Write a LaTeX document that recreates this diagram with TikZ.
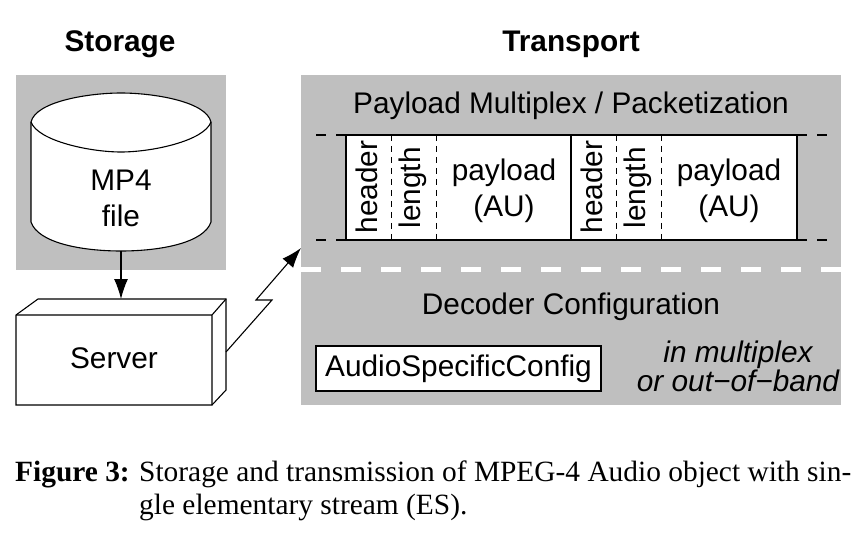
\documentclass[tikz,border=0pt]{standalone}
\usepackage{fontspec}
\setmainfont{Liberation Sans}
\newfontfamily\capfont{Liberation Serif}
\usepackage{tikz}
\usetikzlibrary{arrows.meta}
\usetikzlibrary{calc}
\definecolor{panelgray}{gray}{0.75}
\tikzset{
	panel/.style={fill=panelgray,draw=none},
	solidbox/.style={draw=black,fill=white,line width=1.1pt},
	lbl/.style={inner sep=0pt,font=\fontsize{29.8}{36}\selectfont,align=center},
	title/.style={inner sep=0pt,font=\fontsize{29.8}{36}\selectfont\bfseries},
	caplbl/.style={inner sep=0pt,anchor=base west,font=\capfont\fontsize{29.4}{33}\selectfont},
	wire/.style={line width=1.1pt,-{Latex[length=20pt,width=14pt]}},
	sep/.style={line width=0.9pt,dash pattern=on 6pt off 5pt},
}
\begin{document}
\begin{tikzpicture}[x=1pt,y=-1pt]
	\useasboundingbox (0,0) rectangle (865,548);
	% grey panels
	\path[panel] (16,75) rectangle (226,270);
	\path[panel] (301,75) rectangle (841,405);
	\draw[white,line width=5pt,dash pattern=on 20pt off 20pt] (301,270) -- (841,270);
	\node[title] (storage) at (120,44) {Storage};
	\node[title] (transport) at (571,44) {Transport};
	% MP4 file
	\draw[solidbox] (31,122) .. controls (36,101) and (90,93) .. (121,93)
		.. controls (152,93) and (206,101) .. (211,122)
		-- (211,222) .. controls (204,243) and (160,251) .. (121,251)
		.. controls (82,251) and (38,243) .. (31,222) -- cycle;
	\draw[line width=1.1pt] (31,122) .. controls (38,141) and (90,152) .. (121,152)
		.. controls (152,152) and (204,141) .. (211,122);
	\node[lbl] (file) at (121,198) {MP4\\file};
	\coordinate (filebot) at (121,251);
	% Server
	\draw[solidbox] (16,315) -- (38,299) -- (226,299) -- (226,390) -- (212,405) -- (16,405) -- cycle;
	\draw[line width=1.1pt] (16,315) -- (212,315) -- (212,405) (212,315) -- (226,299);
	\node[lbl] (server) at (114,358) {Server};
	\coordinate (servertop) at (121,299);
	\coordinate (serverside) at (226,352);
	\coordinate (packetin) at (301,248);
	\path[wire]
	(filebot) edge (servertop)
	;
	\draw[wire] (serverside) -- (272,300) -- (256,300) -- (packetin);
	% packets
	\node[lbl] (mux) at (571,106) {Payload Multiplex / Packetization};
	\path[fill=white] (346,135) rectangle (797,240);
	\draw[line width=1.1pt] (346,135) -- (797,135) (346,240) -- (797,240);
	\foreach \y in {135,240}{
		\draw[line width=1.1pt] (316,\y) -- (326,\y) (336,\y) -- (346,\y);
		\draw[line width=1.1pt] (797,\y) -- (807,\y) (817,\y) -- (827,\y);
	}
	\draw[line width=1.1pt] (346,135) -- (346,240) (571,135) -- (571,240) (797,135) -- (797,240);
	\foreach \i/\px in {1/346,2/571}{
		\draw[sep] (\px+45,135) -- (\px+45,240) (\px+90,135) -- (\px+90,240);
		\node[lbl,rotate=90] (header\i) at (\px+20.5,187) {header};
		\node[lbl,rotate=90] (length\i) at (\px+66.5,188) {length};
		\node[lbl] (payload\i) at (\px+158,191) {payload\\(AU)};
	}
	% decoder config
	\node[lbl] (decoder) at (571,307) {Decoder Configuration};
	\node[solidbox,lbl,minimum width=285pt,minimum height=45pt] (asc) at (458.5,368.5) {AudioSpecificConfig};
	\node[lbl,font=\fontsize{29.8}{29}\selectfont\itshape] (oob) at (738,366) {in multiplex\\or out−of−band};
	% caption
	\node[caplbl] (figlabel) at (15,481) {\bfseries Figure 3:};
	\node[caplbl] (cap1) at (139,481) {Storage and transmission of MPEG-4 Audio object with sin-};
	\node[caplbl] (cap2) at (139,514) {gle elementary stream (ES).};
\end{tikzpicture}
\end{document}
